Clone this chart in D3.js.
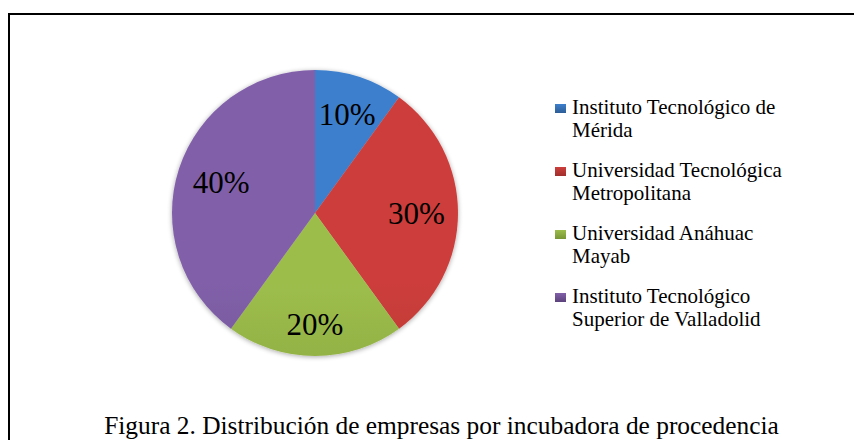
<!DOCTYPE html>
<html><head><meta charset="utf-8">
<script src="https://cdn.jsdelivr.net/npm/d3@7/dist/d3.min.js"></script>
<style>
html,body{margin:0;padding:0;background:#fff;}
svg{display:block;}
</style></head>
<body>
<svg id="chart" width="854" height="440"></svg>
<script>
const FONT = "'Liberation Serif', 'Times New Roman', Tinos, 'DejaVu Serif', serif";
const categories = ["Instituto Tecnológico de Mérida","Universidad Tecnológica Metropolitana","Universidad Anáhuac Mayab","Instituto Tecnológico Superior de Valladolid"];
const legendLines = [["Instituto Tecnológico de","Mérida"],["Universidad Tecnológica","Metropolitana"],["Universidad Anáhuac","Mayab"],["Instituto Tecnológico","Superior de Valladolid"]];
const values = [10,30,20,40];
const colorsTop = ["#3d7fcc","#cc3e3b","#9dbd4c","#8160a9"];
const colorsBottom = ["#2d5d96","#a02f2c","#789533","#5c427c"];
const caption = "Figura 2. Distribución de empresas por incubadora de procedencia";

const svg = d3.select("#chart");
const W = 854, H = 440;
svg.append("path").attr("d", `M9,${H} L9,14 L${W},14`).attr("fill","none").attr("stroke","#000").attr("stroke-width",2);

const defs = svg.append("defs");
const flt = defs.append("filter").attr("id","sh").attr("x","-20%").attr("y","-20%").attr("width","140%").attr("height","140%");
flt.append("feGaussianBlur").attr("in","SourceAlpha").attr("stdDeviation",2.5).attr("result","b");
flt.append("feOffset").attr("in","b").attr("dx",0).attr("dy",1).attr("result","o");
flt.append("feComponentTransfer").attr("in","o").attr("result","o2").append("feFuncA").attr("type","linear").attr("slope",0.35);
const fm = flt.append("feMerge"); fm.append("feMergeNode").attr("in","o2"); fm.append("feMergeNode").attr("in","SourceGraphic");

const cx = 315, cy = 213, r = 143;
values.forEach((v,i)=>{
  const g = defs.append("linearGradient").attr("id","g"+i).attr("gradientUnits","userSpaceOnUse")
    .attr("x1",0).attr("y1",cy-r).attr("x2",0).attr("y2",cy+r);
  g.append("stop").attr("offset","0%").attr("stop-color",colorsTop[i]);
  g.append("stop").attr("offset","100%").attr("stop-color",colorsBottom[i]);
});

const pie = d3.pie().sort(null).value(d=>d);
const arcs = pie(values);
const arc = d3.arc().innerRadius(0).outerRadius(r);
const gp = svg.append("g").attr("transform",`translate(${cx},${cy})`);
gp.append("g").attr("filter","url(#sh)").selectAll("path").data(arcs).join("path")
  .attr("d",arc).attr("fill",(d,i)=>`url(#g${i})`);

// label radial placement (fraction of radius, layout only)
const labelRad = [0.73,0.71,0.78,0.69];
const total = d3.sum(values);
gp.selectAll("text.lbl").data(arcs).join("text").attr("class","lbl")
  .attr("transform",(d,i)=>{const rr=r*labelRad[i];const c=d3.arc().innerRadius(rr).outerRadius(rr).centroid(d);return `translate(${c[0]},${c[1]})`;})
  .attr("text-anchor","middle").attr("dy","0.35em")
  .attr("font-family",FONT).attr("font-size",31)
  .text(d=>Math.round(d.data/total*100)+"%");

// legend
const lg = svg.append("g").attr("transform","translate(555,0)");
const rowY = [114,177,240,303];
legendLines.forEach((lines,i)=>{
  const lgr = defs.append("linearGradient").attr("id","lg"+i).attr("x1",0).attr("y1",0).attr("x2",0).attr("y2",1);
  lgr.append("stop").attr("offset","0%").attr("stop-color",colorsTop[i]);
  lgr.append("stop").attr("offset","100%").attr("stop-color",colorsBottom[i]);
  lg.append("rect").attr("x",0).attr("y",rowY[i]-10).attr("width",11).attr("height",9)
    .attr("fill",`url(#lg${i})`);
  const t = lg.append("text").attr("font-family",FONT).attr("font-size",21);
  lines.forEach((ln,j)=>t.append("tspan").attr("x",17).attr("y",rowY[i]+j*23).text(ln));
});

svg.append("text").attr("x",441.5).attr("y",434).attr("text-anchor","middle")
  .attr("font-family",FONT).attr("font-size",25.4).text(caption);
</script>
</body></html>
